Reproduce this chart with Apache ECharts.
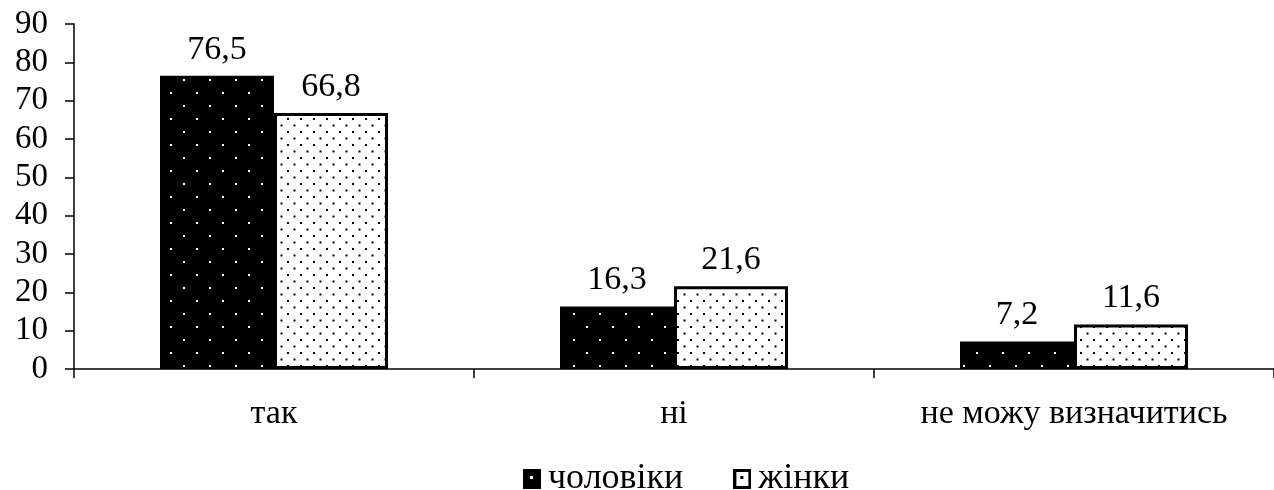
<!DOCTYPE html>
<html>
<head>
<meta charset="utf-8">
<script src="https://cdn.jsdelivr.net/npm/echarts@6/dist/echarts.min.js"></script>
<style>
  html, body { margin: 0; padding: 0; background: #fff; }
  #chart { width: 1274px; height: 490px; }
</style>
</head>
<body>
<div id="chart"></div>
<script>
// Answers by gender, percent
const categories = ['так', 'ні', 'не можу визначитись'];
const seriesNames = ['чоловіки', 'жінки'];
const menValues = [76.5, 16.3, 7.2];
const womenValues = [66.8, 21.6, 11.6];
const yTicks = [0, 10, 20, 30, 40, 50, 60, 70, 80, 90];

const FONT = "'Liberation Serif', 'Times New Roman', serif";

// Dotted fill: staggered grid of dots on a solid background
function dotPattern(bg, dot, step, size) {
  const c = document.createElement('canvas');
  c.width = step; c.height = step;
  const g = c.getContext('2d');
  g.fillStyle = bg;
  g.fillRect(0, 0, step, step);
  g.fillStyle = dot;
  const h = step / 2;
  g.fillRect(1, 1, size, size);
  g.fillRect(1 + h, 1 + h, size, size);
  return c;
}

// Legend swatch: a square with one dot near its centre
function swatch(bg, dot, border) {
  const w = 18, h = 20;
  const c = document.createElement('canvas');
  c.width = w; c.height = h;
  const g = c.getContext('2d');
  g.fillStyle = '#000';
  g.fillRect(0, 0, w, h);
  g.fillStyle = bg;
  g.fillRect(border, border, w - 2 * border, h - 2 * border);
  g.fillStyle = dot;
  g.fillRect(7, 7, 3, 3);
  return 'image://' + c.toDataURL();
}

const darkFill = { image: dotPattern('#000', '#fff', 26, 2), repeat: 'repeat' };
const lightFill = { image: dotPattern('#fff', '#000', 13, 2), repeat: 'repeat' };

const chart = echarts.init(document.getElementById('chart'), null, { renderer: 'canvas' });

const labelStyle = {
  show: true,
  position: 'top',
  distance: 9,
  fontFamily: FONT,
  fontSize: 34,
  color: '#000',
  formatter: p => String(p.value).replace('.', ',')
};

chart.setOption({
  animation: false,
  backgroundColor: '#fff',
  grid: { left: 74, right: 0, top: 24, bottom: 121, containLabel: false },
  legend: {
    left: 518,
    top: 456,
    itemWidth: 18,
    itemHeight: 20,
    itemGap: 50,
    textStyle: { fontFamily: FONT, fontSize: 36, color: '#000', padding: [0, 0, 0, 2] },
    data: [
      { name: seriesNames[0], icon: swatch('#000', '#fff', 0) },
      { name: seriesNames[1], icon: swatch('#fff', '#000', 3) }
    ]
  },
  xAxis: {
    type: 'category',
    data: categories,
    axisLine: { lineStyle: { color: '#000', width: 1.5 } },
    axisTick: { show: true, length: 9, lineStyle: { color: '#000', width: 1.5 } },
    axisLabel: { fontFamily: FONT, fontSize: 34, color: '#000', margin: 28 }
  },
  yAxis: {
    type: 'value',
    min: yTicks[0],
    max: yTicks[yTicks.length - 1],
    interval: 10,
    axisLine: { show: true, lineStyle: { color: '#000', width: 1.5 } },
    axisTick: { show: true, length: 9, lineStyle: { color: '#000', width: 1.5 } },
    axisLabel: { fontFamily: FONT, fontSize: 33, color: '#000', margin: 26 },
    splitLine: { show: false }
  },
  series: [
    {
      name: seriesNames[0],
      type: 'bar',
      data: menValues,
      barGap: '0%',
      barCategoryGap: '43%',
      itemStyle: { color: darkFill, borderColor: '#000', borderWidth: 2 },
      label: labelStyle
    },
    {
      name: seriesNames[1],
      type: 'bar',
      data: womenValues,
      itemStyle: { color: lightFill, borderColor: '#000', borderWidth: 3 },
      label: labelStyle
    }
  ]
});
</script>
</body>
</html>
